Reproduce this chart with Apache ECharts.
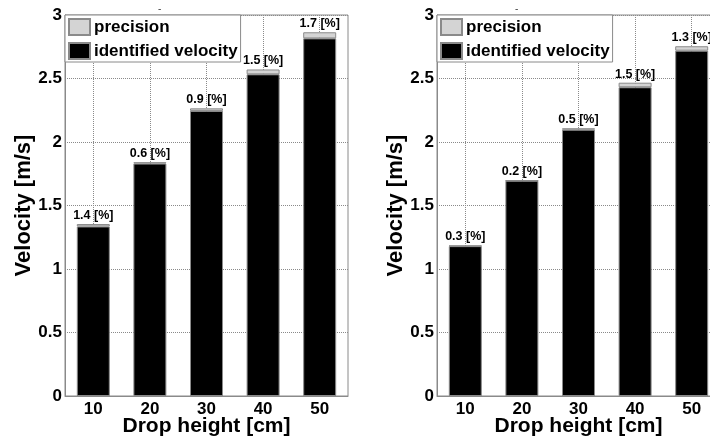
<!DOCTYPE html>
<html>
<head>
<meta charset="utf-8">
<script src="https://cdn.jsdelivr.net/npm/echarts@6/dist/echarts.min.js"></script>
<style>
  html, body { margin: 0; padding: 0; background: #fff; }
  #chart { width: 710px; height: 443px; }
</style>
</head>
<body>
<div id="chart"></div>
<script>
// drop heights on the x axis
const heights = ['10', '20', '30', '40', '50'];

// left panel
const velocityA = [1.335, 1.830, 2.245, 2.533, 2.816];
const precisionA = [0.019, 0.011, 0.020, 0.038, 0.048];
const percentA = ['1.4', '0.6', '0.9', '1.5', '1.7'];

// right panel
const velocityB = [1.180, 1.695, 2.097, 2.431, 2.719];
const precisionB = [0.004, 0.003, 0.011, 0.036, 0.035];
const percentB = ['0.3', '0.2', '0.5', '1.5', '1.3'];

const yTicks = { min: 0, max: 3, interval: 0.5 };

const font = "'Liberation Sans', Arial, sans-serif";
const gray = '#8a8a8a';

let myChart = echarts.init(document.getElementById('chart'));

function makeXAxis(idx) {
    return {
        type: 'category',
        gridIndex: idx,
        data: heights,
        name: 'Drop height [cm]',
        nameLocation: 'middle',
        nameGap: 20,
        nameMoveOverlap: false,
        nameTextStyle: { fontFamily: font, fontSize: 21, fontWeight: 'bold', color: '#000' },
        axisLine: { lineStyle: { color: gray } },
        axisTick: { show: false },
        axisLabel: { margin: 5, fontFamily: font, fontSize: 17, fontWeight: 'bold', color: '#000' },
        // dotted lines through the bar centres
        splitLine: { show: true, alignWithLabel: true, lineStyle: { color: gray, type: 'dotted' } }
    };
}

function makeYAxis(idx) {
    return {
        type: 'value',
        gridIndex: idx,
        min: yTicks.min,
        max: yTicks.max,
        interval: yTicks.interval,
        name: 'Velocity [m/s]',
        nameLocation: 'middle',
        nameGap: 27,
        nameTextStyle: { fontFamily: font, fontSize: 22, fontWeight: 'bold', color: '#000' },
        axisLine: { show: true, lineStyle: { color: gray } },
        axisTick: { show: false },
        axisLabel: { margin: 3, fontFamily: font, fontSize: 17, fontWeight: 'bold', color: '#000' },
        splitLine: { show: true, lineStyle: { color: gray, type: 'dotted' } }
    };
}

function makeLegend(left) {
    return {
        left: left,
        top: 15,
        orient: 'vertical',
        data: ['precision', 'identified velocity'],
        icon: 'rect',
        itemWidth: 21,
        itemHeight: 16,
        itemGap: 6,
        padding: [3, 3, 2, 3],
        backgroundColor: '#fff',
        borderColor: gray,
        borderWidth: 1,
        borderRadius: 0,
        selectedMode: false,
        textStyle: { fontFamily: font, fontSize: 17, fontWeight: 'bold', color: '#000', lineHeight: 16, padding: [0, 0, 0, -1] }
    };
}

function makeSeries(idx, velocity, precision, percent) {
    return [
        {
            name: 'identified velocity',
            type: 'bar',
            xAxisIndex: idx,
            yAxisIndex: idx,
            stack: 'v' + idx,
            barWidth: 33,
            data: velocity,
            itemStyle: { color: '#000', borderColor: gray, borderWidth: 1 }
        },
        {
            name: 'precision',
            type: 'bar',
            xAxisIndex: idx,
            yAxisIndex: idx,
            stack: 'v' + idx,
            barWidth: 33,
            data: precision,
            itemStyle: { color: '#d4d4d4', borderColor: gray, borderWidth: 1 },
            label: {
                show: true,
                position: 'top',
                distance: 2,
                fontFamily: font,
                fontSize: 12.5,
                fontWeight: 'bold',
                color: '#000',
                formatter: p => percent[p.dataIndex] + ' [%]'
            }
        }
    ];
}

let options = {
    animation: false,
    backgroundColor: '#fff',
    title: [
        { text: '-', left: 153, top: -1, textStyle: { fontSize: 10, fontWeight: 'normal', color: '#444' } },
        { text: '-', left: 510, top: -1, textStyle: { fontSize: 10, fontWeight: 'normal', color: '#444' } }
    ],
    grid: [
        { left: 65, top: 15, width: 283, height: 381, outerBoundsMode: 'none', containLabel: false,
          show: true, borderColor: gray, borderWidth: 1, backgroundColor: '#fff' },
        // the right panel runs past the edge of the picture, as in the original
        { left: 437, top: 15, width: 283, height: 381, outerBoundsMode: 'none', containLabel: false,
          show: true, borderColor: gray, borderWidth: 1, backgroundColor: '#fff' }
    ],
    legend: [makeLegend(65), makeLegend(437)],
    xAxis: [makeXAxis(0), makeXAxis(1)],
    yAxis: [makeYAxis(0), makeYAxis(1)],
    series: makeSeries(0, velocityA, precisionA, percentA).concat(makeSeries(1, velocityB, precisionB, percentB))
};

myChart.setOption(options, true);
</script>
</body>
</html>
